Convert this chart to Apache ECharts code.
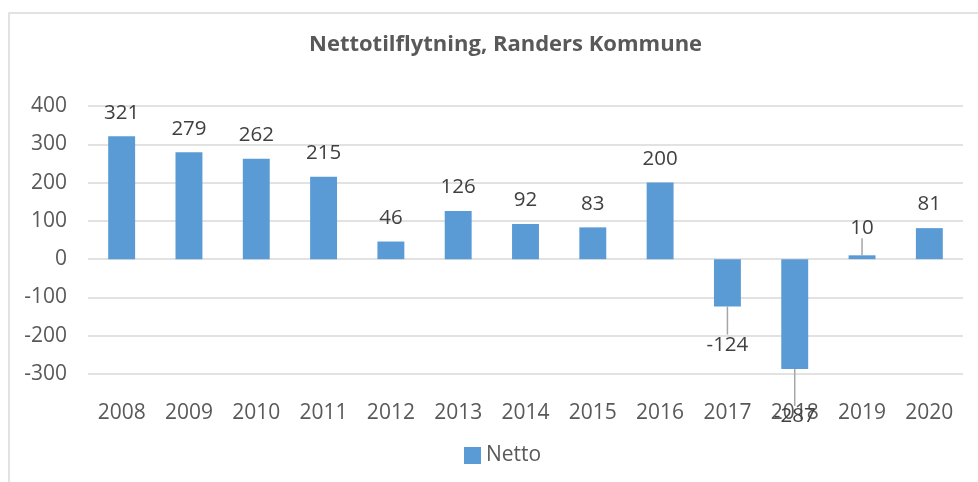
<!DOCTYPE html>
<html>
<head>
<meta charset="utf-8">
<script src="https://cdn.jsdelivr.net/npm/echarts@6/dist/echarts.min.js"></script>
<style>
  html, body { margin: 0; padding: 0; background: #fff; }
  #chart { width: 978px; height: 482px; }
</style>
</head>
<body>
<div id="chart"></div>
<script>
const years = ['2008', '2009', '2010', '2011', '2012', '2013', '2014', '2015', '2016', '2017', '2018', '2019', '2020'];
const netto = [321, 279, 262, 215, 46, 126, 92, 83, 200, -124, -287, 10, 81];
// labels Excel moved away from the bar (drawn with a leader line)
const movedLabels = { '2017': 15, '2018': 24, '2019': -4 };

const FONT = '"Open Sans", sans-serif';
const TEXT = '#595959';

const chart = echarts.init(document.getElementById('chart'));

chart.setOption({
    animation: false,
    textStyle: { fontFamily: FONT },
    title: {
        text: 'Nettotilflytning, Randers Kommune',
        left: 304,
        top: 29,
        textStyle: { color: TEXT, fontSize: 22, fontWeight: 'bold', fontFamily: FONT }
    },
    legend: {
        bottom: 11,
        left: 459,
        itemWidth: 17,
        itemHeight: 17,
        icon: 'rect',
        itemGap: 6,
        textStyle: { color: TEXT, fontSize: 21, fontFamily: FONT },
        data: ['Netto']
    },
    grid: { left: 88, right: 15, top: 106, bottom: 108 },
    graphic: [
        {
            type: 'polyline',
            shape: { points: [[9, 482], [9, 13], [978, 13]] },
            style: { stroke: '#d9d9d9', lineWidth: 1.5, fill: null }
        }
    ],
    xAxis: {
        type: 'category',
        data: years,
        axisLine: { show: false },
        axisTick: { show: false },
        axisLabel: { color: TEXT, fontSize: 21, margin: 29, fontFamily: FONT }
    },
    yAxis: {
        type: 'value',
        min: -300,
        max: 400,
        interval: 100,
        axisLine: { show: false },
        axisTick: { show: false },
        axisLabel: { color: TEXT, fontSize: 21, margin: 21, fontFamily: FONT },
        splitLine: { lineStyle: { color: '#d9d9d9', width: 1.5 } }
    },
    series: [
        {
            name: 'Netto',
            type: 'bar',
            barWidth: '40%',
            itemStyle: { color: '#5b9bd5' },
            label: {
                show: true,
                color: '#404040',
                fontSize: 20.5,
                fontFamily: FONT,
                distance: 13
            },
            labelLine: {
                show: true,
                lineStyle: { color: '#a6a6a6', width: 1.5 }
            },
            labelLayout: (params) => {
                const dy = movedLabels[years[params.dataIndex]];
                return dy === undefined ? {} : { dy: dy };
            },
            data: netto.map((v, i) => ({
                value: v,
                label: { position: v < 0 ? 'bottom' : 'top' },
                labelLine: { show: movedLabels[years[i]] !== undefined }
            }))
        }
    ]
});
</script>
</body>
</html>
